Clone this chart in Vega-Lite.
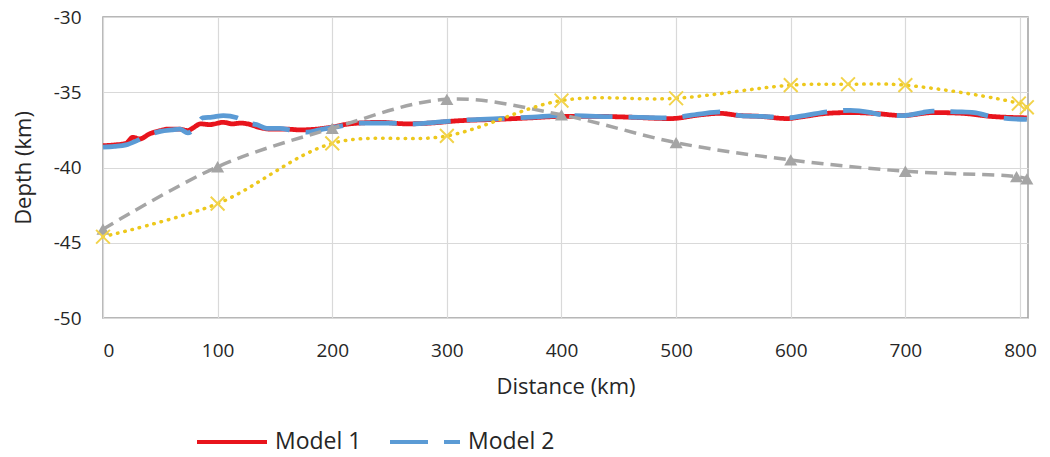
{
  "$schema": "https://vega.github.io/schema/vega-lite/v6.json",
  "autosize": {"type": "none"},
  "padding": {"left": 103, "top": 17, "right": 22, "bottom": 139},
  "width": 925,
  "height": 301,
  "background": "white",
  "config": {
    "font": "Open Sans",
    "view": {"stroke": "#A0A0A0", "strokeWidth": 1.5},
    "axis": {"labelFont": "Open Sans", "titleFont": "Open Sans", "labelColor": "#262626", "titleColor": "#262626", "titleFontWeight": "normal", "gridColor": "#D9D9D9", "gridWidth": 1.2, "domain": false, "ticks": false}
  },
  "datasets": {
    "models": [
      {"series": "Model 1", "dist": 0, "depth": -38.55},
      {"series": "Model 1", "dist": 10, "depth": -38.5},
      {"series": "Model 1", "dist": 20, "depth": -38.4},
      {"series": "Model 1", "dist": 26, "depth": -38.0},
      {"series": "Model 1", "dist": 32, "depth": -38.1},
      {"series": "Model 1", "dist": 41, "depth": -37.75},
      {"series": "Model 1", "dist": 50, "depth": -37.55},
      {"series": "Model 1", "dist": 56, "depth": -37.45},
      {"series": "Model 1", "dist": 67, "depth": -37.45},
      {"series": "Model 1", "dist": 74, "depth": -37.55},
      {"series": "Model 1", "dist": 79, "depth": -37.35},
      {"series": "Model 1", "dist": 85, "depth": -37.1},
      {"series": "Model 1", "dist": 93, "depth": -37.15},
      {"series": "Model 1", "dist": 105, "depth": -37.0},
      {"series": "Model 1", "dist": 113, "depth": -37.1},
      {"series": "Model 1", "dist": 120, "depth": -37.05},
      {"series": "Model 1", "dist": 126, "depth": -37.1},
      {"series": "Model 1", "dist": 137, "depth": -37.35},
      {"series": "Model 1", "dist": 146, "depth": -37.45},
      {"series": "Model 1", "dist": 160, "depth": -37.45},
      {"series": "Model 1", "dist": 172, "depth": -37.5},
      {"series": "Model 1", "dist": 186, "depth": -37.45},
      {"series": "Model 1", "dist": 201, "depth": -37.3},
      {"series": "Model 1", "dist": 215, "depth": -37.1},
      {"series": "Model 1", "dist": 242, "depth": -37.0},
      {"series": "Model 1", "dist": 265, "depth": -37.1},
      {"series": "Model 1", "dist": 285, "depth": -37.05},
      {"series": "Model 1", "dist": 309, "depth": -36.9},
      {"series": "Model 1", "dist": 344, "depth": -36.8},
      {"series": "Model 1", "dist": 373, "depth": -36.7},
      {"series": "Model 1", "dist": 401, "depth": -36.6},
      {"series": "Model 1", "dist": 430, "depth": -36.6},
      {"series": "Model 1", "dist": 457, "depth": -36.65},
      {"series": "Model 1", "dist": 495, "depth": -36.75},
      {"series": "Model 1", "dist": 521, "depth": -36.5},
      {"series": "Model 1", "dist": 538, "depth": -36.4},
      {"series": "Model 1", "dist": 556, "depth": -36.55},
      {"series": "Model 1", "dist": 573, "depth": -36.6},
      {"series": "Model 1", "dist": 597, "depth": -36.75},
      {"series": "Model 1", "dist": 608, "depth": -36.65},
      {"series": "Model 1", "dist": 632, "depth": -36.4},
      {"series": "Model 1", "dist": 652, "depth": -36.35},
      {"series": "Model 1", "dist": 672, "depth": -36.4},
      {"series": "Model 1", "dist": 698, "depth": -36.55},
      {"series": "Model 1", "dist": 724, "depth": -36.35},
      {"series": "Model 1", "dist": 750, "depth": -36.4},
      {"series": "Model 1", "dist": 774, "depth": -36.6},
      {"series": "Model 1", "dist": 806, "depth": -36.7},
      {"series": "Model 2", "dist": 0, "depth": -38.65},
      {"series": "Model 2", "dist": 10, "depth": -38.6},
      {"series": "Model 2", "dist": 20, "depth": -38.5},
      {"series": "Model 2", "dist": 30, "depth": -38.2},
      {"series": "Model 2", "dist": 41, "depth": -37.8},
      {"series": "Model 2", "dist": 50, "depth": -37.6},
      {"series": "Model 2", "dist": 60, "depth": -37.5},
      {"series": "Model 2", "dist": 67, "depth": -37.45},
      {"series": "Model 2", "dist": 74, "depth": -37.7},
      {"series": "Model 2", "dist": 80, "depth": -37.4},
      {"series": "Model 2", "dist": 87, "depth": -36.7},
      {"series": "Model 2", "dist": 95, "depth": -36.65},
      {"series": "Model 2", "dist": 105, "depth": -36.55},
      {"series": "Model 2", "dist": 117, "depth": -36.7},
      {"series": "Model 2", "dist": 126, "depth": -37.05},
      {"series": "Model 2", "dist": 134, "depth": -37.15},
      {"series": "Model 2", "dist": 143, "depth": -37.4},
      {"series": "Model 2", "dist": 154, "depth": -37.4},
      {"series": "Model 2", "dist": 166, "depth": -37.55},
      {"series": "Model 2", "dist": 178, "depth": -37.65},
      {"series": "Model 2", "dist": 189, "depth": -37.5},
      {"series": "Model 2", "dist": 207, "depth": -37.25},
      {"series": "Model 2", "dist": 225, "depth": -37.05},
      {"series": "Model 2", "dist": 250, "depth": -37.05},
      {"series": "Model 2", "dist": 270, "depth": -37.1},
      {"series": "Model 2", "dist": 290, "depth": -37.0},
      {"series": "Model 2", "dist": 315, "depth": -36.85},
      {"series": "Model 2", "dist": 345, "depth": -36.75},
      {"series": "Model 2", "dist": 375, "depth": -36.65},
      {"series": "Model 2", "dist": 400, "depth": -36.55},
      {"series": "Model 2", "dist": 430, "depth": -36.6},
      {"series": "Model 2", "dist": 460, "depth": -36.65},
      {"series": "Model 2", "dist": 495, "depth": -36.7},
      {"series": "Model 2", "dist": 520, "depth": -36.45},
      {"series": "Model 2", "dist": 540, "depth": -36.3},
      {"series": "Model 2", "dist": 556, "depth": -36.55},
      {"series": "Model 2", "dist": 575, "depth": -36.6},
      {"series": "Model 2", "dist": 597, "depth": -36.7},
      {"series": "Model 2", "dist": 612, "depth": -36.55},
      {"series": "Model 2", "dist": 632, "depth": -36.3},
      {"series": "Model 2", "dist": 652, "depth": -36.2},
      {"series": "Model 2", "dist": 670, "depth": -36.35},
      {"series": "Model 2", "dist": 680, "depth": -36.5},
      {"series": "Model 2", "dist": 698, "depth": -36.55},
      {"series": "Model 2", "dist": 715, "depth": -36.35},
      {"series": "Model 2", "dist": 724, "depth": -36.25},
      {"series": "Model 2", "dist": 745, "depth": -36.3},
      {"series": "Model 2", "dist": 760, "depth": -36.35},
      {"series": "Model 2", "dist": 774, "depth": -36.6},
      {"series": "Model 2", "dist": 790, "depth": -36.75},
      {"series": "Model 2", "dist": 806, "depth": -36.8}
    ],
    "gray": [
      {"dist": 0, "depth": -44.1},
      {"dist": 100, "depth": -39.95},
      {"dist": 200, "depth": -37.4},
      {"dist": 300, "depth": -35.47},
      {"dist": 400, "depth": -36.5},
      {"dist": 500, "depth": -38.35},
      {"dist": 600, "depth": -39.5},
      {"dist": 700, "depth": -40.25},
      {"dist": 797, "depth": -40.6},
      {"dist": 806, "depth": -40.75}
    ],
    "yellow": [
      {"dist": 0, "depth": -44.6},
      {"dist": 100, "depth": -42.4},
      {"dist": 200, "depth": -38.4},
      {"dist": 300, "depth": -37.9},
      {"dist": 400, "depth": -35.55},
      {"dist": 500, "depth": -35.4},
      {"dist": 600, "depth": -34.53},
      {"dist": 650, "depth": -34.47},
      {"dist": 700, "depth": -34.53},
      {"dist": 799, "depth": -35.75},
      {"dist": 806, "depth": -36.0}
    ]
  },
  "encoding": {
    "x": {"field": "dist", "type": "quantitative", "scale": {"domain": [0, 807], "nice": false, "zero": false},
      "axis": {"values": [0, 100, 200, 300, 400, 500, 600, 700, 800], "title": "Distance (km)", "labelFontSize": 19, "titleFontSize": 22, "labelPadding": 23, "titlePadding": 16, "grid": true}},
    "y": {"field": "depth", "type": "quantitative", "scale": {"domain": [-50, -30], "nice": false, "zero": false},
      "axis": {"values": [-50, -45, -40, -35, -30], "labelExpr": "datum.value + ''", "title": "Depth (km)", "labelFontSize": 19, "titleFontSize": 22, "labelPadding": 22, "titlePadding": 18, "grid": true}}
  },
  "layer": [
    {
      "data": {"name": "models"},
      "mark": {"type": "line", "strokeWidth": 4.8, "interpolate": "monotone"},
      "encoding": {
        "color": {"field": "series", "type": "nominal", "scale": {"domain": ["Model 1", "Model 2"], "range": ["#E8141C", "#5B9BD5"]},
          "legend": {"orient": "none", "legendX": 92, "legendY": 388, "direction": "horizontal", "title": null, "symbolType": "stroke", "symbolSize": 4900, "symbolStrokeWidth": 4, "labelFontSize": 23, "labelFont": "Open Sans", "labelColor": "#262626", "columnPadding": 20, "labelOffset": 6, "padding": 0}},
        "strokeDash": {"field": "series", "type": "nominal", "scale": {"domain": ["Model 1", "Model 2"], "range": [[1, 0], [38, 16]]}}
      }
    },
    {
      "data": {"name": "gray"},
      "mark": {"type": "line", "color": "#A5A5A5", "strokeWidth": 3.5, "strokeDash": [12, 7], "interpolate": "catmull-rom"},
      "encoding": {}
    },
    {
      "data": {"name": "gray"},
      "mark": {"type": "point", "shape": "triangle-up", "filled": true, "color": "#A5A5A5", "size": 170, "opacity": 1},
      "encoding": {}
    },
    {
      "data": {"name": "yellow"},
      "mark": {"type": "line", "color": "#EDC81C", "strokeWidth": 3.5, "strokeDash": [0.5, 7], "strokeCap": "round", "interpolate": "catmull-rom"},
      "encoding": {}
    },
    {
      "data": {"name": "yellow"},
      "mark": {"type": "point", "shape": "M-1,-1L1,1M1,-1L-1,1", "filled": false, "color": "#F2D34A", "strokeWidth": 2, "size": 190, "opacity": 1},
      "encoding": {}
    }
  ]
}
